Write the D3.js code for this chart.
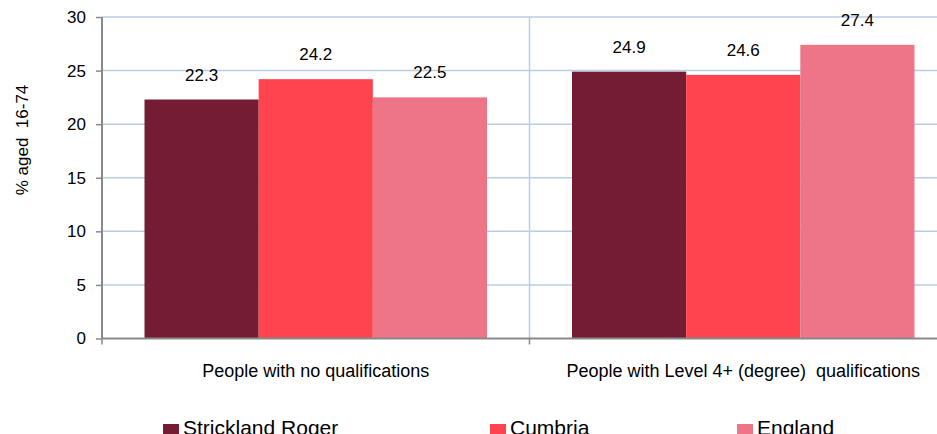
<!DOCTYPE html>
<html>
<head>
<meta charset="utf-8">
<script src="https://cdn.jsdelivr.net/npm/d3@7"></script>
<style>
  body { margin: 0; background: #fff; }
  text { font-family: "Liberation Sans", Arial, sans-serif; fill: #000; }
</style>
</head>
<body>
<script>
// Data
const categories = ["People with no qualifications", "People with Level 4+ (degree)  qualifications"];
const series = ["Strickland Roger", "Cumbria", "England"];
const valuesStrickland = [22.3, 24.9];
const valuesCumbria = [24.2, 24.6];
const valuesEngland = [22.5, 27.4];
const yTicks = [0, 5, 10, 15, 20, 25, 30];
const colors = ["#741c33", "#ff444f", "#ee7488"];

const W = 937, H = 434;
const plot = {left: 102, top: 17, right: 957, bottom: 338.5};

const svg = d3.select("body").append("svg")
              .attr("width", W)
              .attr("height", H);

const y = d3.scaleLinear().domain([0, 30]).range([plot.bottom, plot.top]);
const x0 = d3.scaleBand().domain(categories).range([plot.left, plot.right]);
const x1 = d3.scaleBand().domain(series).range([42.5, x0.bandwidth() - 42.5]);

// gridlines
svg.append("g")
   .selectAll("line")
   .data(yTicks.filter(d => d > 0))
   .join("line")
   .attr("x1", plot.left).attr("x2", W)
   .attr("y1", d => y(d)).attr("y2", d => y(d))
   .attr("stroke", "#b9cde5").attr("stroke-width", 1.5);

// vertical divider between categories
svg.append("line")
   .attr("x1", x0(categories[1])).attr("x2", x0(categories[1]))
   .attr("y1", plot.top).attr("y2", plot.bottom)
   .attr("stroke", "#b9cde5").attr("stroke-width", 1.5);

// bars
const rows = categories.map((c, i) => ({
  cat: c,
  vals: [valuesStrickland[i], valuesCumbria[i], valuesEngland[i]]
}));

const groups = svg.append("g")
  .selectAll("g")
  .data(rows)
  .join("g")
  .attr("transform", d => `translate(${x0(d.cat)},0)`);

groups.selectAll("rect")
  .data(d => d.vals.map((v, j) => ({s: series[j], v, j})))
  .join("rect")
  .attr("x", d => x1(d.s))
  .attr("width", x1.bandwidth())
  .attr("y", d => y(d.v))
  .attr("height", d => y(0) - y(d.v))
  .attr("fill", d => colors[d.j]);

groups.selectAll("text")
  .data(d => d.vals.map((v, j) => ({s: series[j], v})))
  .join("text")
  .attr("x", d => x1(d.s) + x1.bandwidth() / 2)
  .attr("y", d => y(d.v) - 19)
  .attr("text-anchor", "middle")
  .attr("font-size", 17)
  .text(d => d.v.toFixed(1));

// y axis
const yAxis = svg.append("g")
  .attr("transform", `translate(${plot.left},0)`)
  .call(d3.axisLeft(y).tickValues(yTicks).tickSize(6).tickPadding(10));
yAxis.select(".domain").attr("stroke", "#898989").attr("stroke-width", 2)
     .attr("d", `M0,${plot.top}V${plot.bottom}`);
yAxis.selectAll(".tick line").attr("stroke", "#898989").attr("stroke-width", 1.5);
yAxis.selectAll(".tick text").attr("font-size", 17).attr("font-family", "Liberation Sans, Arial, sans-serif");

// x axis
svg.append("line")
   .attr("x1", plot.left).attr("x2", W)
   .attr("y1", plot.bottom).attr("y2", plot.bottom)
   .attr("stroke", "#898989").attr("stroke-width", 2);
svg.append("g")
   .selectAll("line")
   .data([...categories, null])
   .join("line")
   .attr("x1", d => d ? x0(d) : plot.right)
   .attr("x2", d => d ? x0(d) : plot.right)
   .attr("y1", plot.bottom).attr("y2", plot.bottom + 6)
   .attr("stroke", "#898989").attr("stroke-width", 1.5);

svg.append("g")
   .selectAll("text")
   .data(categories)
   .join("text")
   .attr("x", d => x0(d) + x0.bandwidth() / 2)
   .attr("y", 377)
   .attr("text-anchor", "middle")
   .attr("font-size", 18)
   .style("white-space", "pre")
   .text(d => d);

// y title
svg.append("text")
   .attr("transform", "translate(28,140) rotate(-90)")
   .attr("text-anchor", "middle")
   .attr("font-size", 17)
   .style("white-space", "pre")
   .text("% aged  16-74");

// legend
const legendX = [163, 490, 737];
const legend = svg.append("g")
  .selectAll("g")
  .data(series)
  .join("g")
  .attr("transform", (d, i) => `translate(${legendX[i]},424)`);
legend.append("rect")
  .attr("width", 16).attr("height", 16)
  .attr("fill", (d, i) => colors[i]);
legend.append("text")
  .attr("x", 20).attr("y", 11)
  .attr("font-size", 21)
  .text(d => d);
</script>
</body>
</html>
